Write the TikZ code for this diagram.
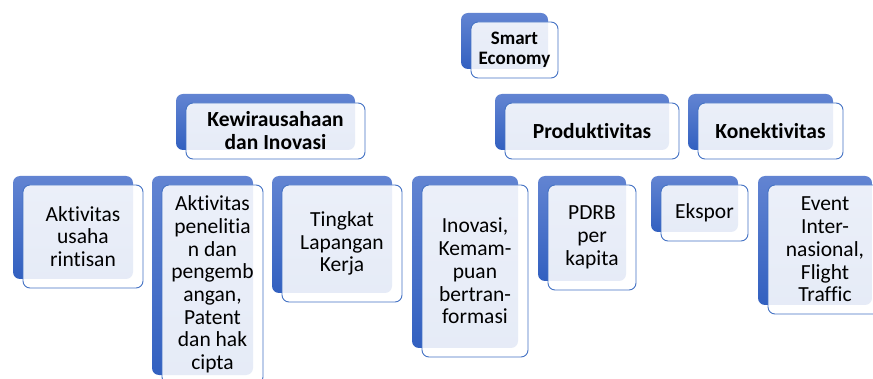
\documentclass[tikz,border=0pt]{standalone}
\usepackage{fontspec}
\setmainfont{Carlito}[Ligatures=NoCommon]
\usetikzlibrary{backgrounds}
\definecolor{backtop}{RGB}{98,132,210}
\definecolor{backbot}{RGB}{50,96,192}
\definecolor{edgeblue}{RGB}{68,114,196}
\definecolor{connblue}{RGB}{50,88,168}
\newcommand\fntS{\fontsize{19}{19.5}\selectfont\bfseries}
\newcommand\fntM{\fontsize{21.5}{23}\selectfont\bfseries}
\newcommand\fntL{\fontsize{21.5}{22.7}\selectfont}
\tikzset{
  backbox/.style={rounded corners=7pt, top color=backtop, bottom color=backbot, draw=none, inner sep=0pt, outer sep=0pt},
  frontbox/.style={rounded corners=7pt, fill=white, fill opacity=0.88, text opacity=1, draw=edgeblue, draw opacity=1,
    line width=0.9pt, inner sep=0pt, outer sep=0pt, align=center},
  connline/.style={draw=connblue, line width=1.8pt},
}
\newcommand\duobox[7]{%
  \node[backbox, minimum width={#4-#2}, minimum height={#5-#3}] (#1b) at ({(#2+#4)/2-10},{(#3+#5)/2-9}) {};
  \node[frontbox, minimum width={#4-#2}, minimum height={#5-#3}, font=#6] (#1) at ({(#2+#4)/2},{(#3+#5)/2}) {#7};
}
\begin{document}
\begin{tikzpicture}[x=1pt,y=-1pt]
\useasboundingbox[fill=white] (0,0) rectangle (873,379);
% level 1
\duobox{se}{471}{22}{558}{78}{\fntS}{Smart\\Economy}
% level 2
\duobox{kw}{186}{103}{365}{159}{\fntM}{Kewirausahaan\\dan Inovasi}
\duobox{pr}{505}{103}{679}{159}{\fntM}{Produktivitas}
\duobox{ko}{698}{103}{843}{159}{\fntM}{Konektivitas}
% level 3
\duobox{aa}{23}{185}{143}{288}{\fntL}{Aktivitas\\usaha\\rintisan}
\duobox{ab}{162}{185}{263}{384}{\fntL}{Aktivitas\\penelitia\\n dan\\pengemb\\angan,\\Patent\\dan hak\\cipta}
\duobox{ac}{282}{185}{402}{302}{\fntL}{Tingkat\\Lapangan\\Kerja}
\duobox{ad}{422}{185}{528}{357}{\fntL}{Inovasi,\\Kemam-\\puan\\bertran-\\formasi}
\duobox{ae}{548}{185}{636}{290}{\fntL}{PDRB\\per\\kapita}
\duobox{af}{661}{185}{748}{241}{\fntL}{Ekspor}
\duobox{ag}{768}{185}{882}{314}{\fntL}{Event\\Inter-\\nasional,\\Flight\\Traffic}
% connectors
\coordinate (busA) at (0,95);
\coordinate (busB) at (0,175);
\coordinate (xa) at (588,69);
\coordinate (xb) at (843,95);
\coordinate (xc) at (284,150);
\coordinate (xd) at (320,150);
\coordinate (xe) at (777,150);
\begin{pgfonlayer}{background}
\draw[connline] (seb.south) -- (seb.south |- busA);
\draw[connline] (kwb.south |- busA) -- (xb) -- (xb |- ko.north);
\draw[connline] (xa) -- (xa |- busA);
\draw[connline] (kwb.south |- busA) -- (kwb.north);
\draw[connline] (prb.north |- busA) -- (prb.north);
\draw[connline] (kob.north |- busA) -- (kob.north);
\draw[connline] (kwb.south) -- (kwb.south |- busB);
\draw[connline] (xc) -- (xc |- busB);
\draw[connline] (xd) -- (xd |- busB);
\draw[connline] (aab.north |- busB) -- (adb.north |- busB);
\draw[connline] (prb.south) -- (prb.south |- busB) -- (aeb.north);
\draw[connline] (kob.south) -- (kob.south |- busB);
\draw[connline] (xe) -- (xe |- busB);
\draw[connline] (afb.north |- busB) -- (agb.north |- busB);
\end{pgfonlayer}
\end{tikzpicture}
\end{document}
